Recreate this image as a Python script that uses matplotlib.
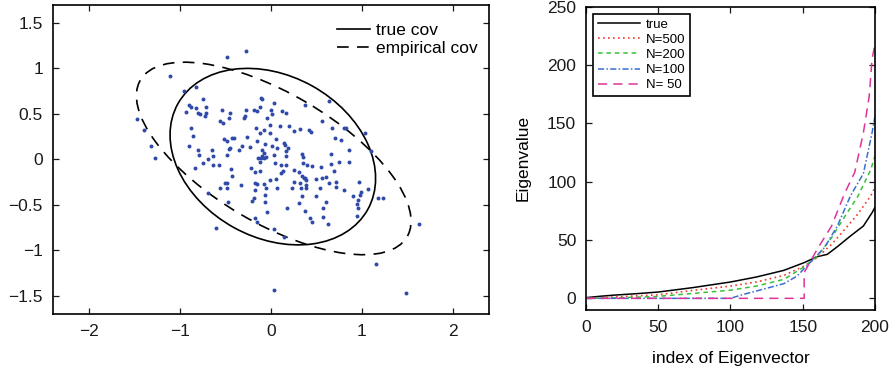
import numpy as np
import matplotlib
matplotlib.use("Agg")
import matplotlib.pyplot as plt
from matplotlib.patches import Ellipse
from matplotlib.ticker import FuncFormatter

plt.rcParams['font.family'] = ['Liberation Sans', 'DejaVu Sans']

# ---- left panel: 2-D samples and covariance ellipses ----
sample_x = [-0.27, -0.48, -1.11, -0.96, -0.83, -0.11, -0.10, 0.03, -0.75, -0.90,
            -0.88, -0.82, -0.71, -0.93, -0.80, -0.78, -0.71, -0.73, -0.54, -0.45,
            -0.46, -0.28, -0.29, -0.30, -0.19, -0.15, -0.12, 0.00, 0.01, -0.04,
            -0.56, -0.53, -1.47, -1.40, -1.32, -1.28, -0.88, -0.86, -0.90, -0.80,
            -0.79, -0.65, -0.64, -0.75, -0.69, -0.52, -0.48, -0.43, -0.41, -0.46,
            -0.45, -0.48, -0.35, -0.32, -0.26, -0.23, -0.17, -0.12, -0.08, -0.01,
            -0.01, -0.15, -0.07, 0.01, -0.10, -0.08, -0.10, -0.14, -0.11, -0.08,
            -0.05, 0.03, -0.64, -0.57,
            0.12, 0.16, 0.37, 0.64, 0.10, 0.20, 0.25, 0.32, 0.42, 0.44,
            0.56, 0.67, 0.80, 0.82, 1.03, 0.70, 0.77, 0.86, 1.10, 0.05,
            0.14, 0.15, 0.19, 0.07, 0.16, 0.16, 0.34, 0.35, 0.66, 0.75,
            0.86, 0.04, 0.11, 0.17, 0.35, 0.40, 0.45, 0.66,
            0.55, 0.13, 0.11, 0.25, 0.31, 0.34, 0.37, 0.38, 0.36, 0.50,
            0.56, 0.60, 0.69, -0.01, 0.05, 0.25, 0.32, 0.38, 0.38, 0.07,
            0.23, 0.33, 0.54, 0.64, 0.72, 0.71, 0.97, 0.80, 0.90, 0.99,
            0.98, 1.07, 1.18, 1.23, 0.34, 0.49, 0.96, 0.95, 0.96, 0.31,
            0.18, 0.61, 0.57, 0.37, 0.43, 0.45, 0.57, 0.63, 0.94, 0.03,
            0.14, 1.63, 1.15, 0.03, 1.48,
            -0.84, -0.44, -0.43, -0.22, -0.18, -0.12, -0.51, -0.48, -0.33, -0.56,
            -0.48, -0.69, -0.47, -0.18, -0.15, -0.08, -0.05, -0.18, -0.07, -0.19,
            -0.21, -0.07, -0.04, -0.18, -0.15, -0.60, -0.12]
sample_y = [1.19, 1.13, 0.92, 0.75, 0.79, 0.67, 0.66, 0.62, 0.66, 0.60,
            0.58, 0.57, 0.58, 0.52, 0.51, 0.50, 0.51, 0.48, 0.54, 0.51,
            0.46, 0.54, 0.48, 0.46, 0.54, 0.53, 0.58, 0.54, 0.50, 0.45,
            0.42, 0.40, 0.44, 0.32, 0.15, 0.02, 0.35, 0.26, 0.15, 0.10,
            0.05, 0.10, 0.04, -0.04, 0.00, 0.22, 0.20, 0.23, 0.23, 0.11,
            0.13, 0.05, 0.10, 0.15, 0.25, 0.14, 0.35, 0.29, 0.32, 0.38,
            0.29, 0.20, 0.17, 0.15, 0.10, 0.07, 0.04, 0.01, 0.01, 0.02,
            0.03, 0.05, -0.06, -0.06,
            0.53, 0.51, 0.60, 0.64, 0.37, 0.37, 0.31, 0.33, 0.32, 0.30,
            0.42, 0.35, 0.35, 0.34, 0.29, 0.24, 0.21, 0.10, 0.09, 0.22,
            0.18, 0.16, 0.13, 0.12, 0.09, 0.04, 0.06, 0.03, 0.06, -0.03,
            -0.03, -0.04, -0.06, -0.06, -0.04, -0.06, -0.07, -0.05,
            -0.08, -0.13, -0.15, -0.12, -0.14, -0.18, -0.21, -0.23, -0.20, -0.22,
            -0.20, -0.19, -0.13, -0.23, -0.22, -0.25, -0.26, -0.28, -0.31, -0.31,
            -0.32, -0.32, -0.31, -0.26, -0.25, -0.30, -0.25, -0.34, -0.40, -0.36,
            -0.39, -0.33, -0.43, -0.43, -0.40, -0.40, -0.45, -0.49, -0.53, -0.48,
            -0.53, -0.47, -0.53, -0.57, -0.64, -0.69, -0.63, -0.71, -0.62, -0.77,
            -0.85, -0.71, -1.15, -1.44, -1.47,
            -0.09, -0.11, -0.18, -0.10, -0.14, -0.13, -0.26, -0.26, -0.28, -0.32,
            -0.32, -0.37, -0.47, -0.26, -0.27, -0.27, -0.31, -0.34, -0.39, -0.42,
            -0.46, -0.47, -0.58, -0.64, -0.69, -0.75, -0.03]

# ellipse centres and (scaled) covariance matrices
true_center = [0.02, 0.03]
true_cov = [[1.277, -0.27], [-0.27, 0.941]]
emp_center = [0.03, 0.01]
emp_cov = [[2.28, -1.04], [-1.04, 1.12]]

left_xticks = [-2, -1, 0, 1, 2]
left_yticks = [-1.5, -1, -0.5, 0, 0.5, 1, 1.5]

# ---- right panel: sorted eigenvalue spectra ----
idx_true = [0, 10, 20, 35, 50, 74, 100, 118, 137, 151, 160, 167, 174, 183, 192, 198, 200]
eig_true = [0.6, 1.8, 2.8, 4.0, 5.4, 9.2, 14.0, 18.3, 24.0, 30.6, 35.7, 37.7, 44.3, 53.4, 62.0, 73.4, 78.0]

idx_500 = [0, 20, 50, 72, 100, 118, 137, 151, 160, 170, 179, 188, 197, 200]
eig_500 = [0.1, 1.2, 3.0, 6.5, 10.5, 14.0, 19.7, 27.7, 34.9, 46.3, 59.0, 72.0, 87.7, 95.0]

idx_200 = [0, 20, 48, 72, 100, 118, 137, 151, 160, 170, 179, 188, 197, 200]
eig_200 = [0.0, 0.4, 1.5, 4.0, 7.0, 10.5, 16.3, 27.0, 36.0, 52.0, 70.0, 87.0, 110.0, 122.0]

idx_100 = [0, 100, 109, 118, 137, 146, 155, 165, 174, 183, 192, 198, 200]
eig_100 = [0.0, 0.0, 3.4, 6.3, 12.6, 19.0, 30.6, 43.4, 62.0, 87.7, 107.0, 142.0, 156.0]

idx_50 = [0, 151, 151, 160, 170, 179, 186, 192, 196, 198, 200]
eig_50 = [0.0, 0.0, 22.0, 42.0, 62.0, 90.0, 108.0, 142.0, 173.0, 205.0, 218.0]

right_xticks = [0, 50, 100, 150, 200]
right_yticks = [0, 50, 100, 150, 200, 250]

FS = 12.5


def matlab_fmt(v, pos):
    s = f"{v:g}"
    return s.replace('-', '\u2212')


def style_axes(ax):
    ax.tick_params(direction='in', top=True, right=True, length=4, width=0.9,
                   labelsize=FS, pad=7, colors='#1a1a1a')
    for sp in ax.spines.values():
        sp.set_visible(True)
        sp.set_linewidth(1.2)
        sp.set_color('black')
    ax.xaxis.set_major_formatter(FuncFormatter(matlab_fmt))
    ax.yaxis.set_major_formatter(FuncFormatter(matlab_fmt))


def cov_ellipse(center, cov, **kw):
    vals, vecs = np.linalg.eigh(np.asarray(cov))
    major = vecs[:, 1]
    angle = np.degrees(np.arctan2(major[1], major[0]))
    return Ellipse(center, 2 * np.sqrt(vals[1]), 2 * np.sqrt(vals[0]), angle=angle,
                   fill=False, **kw)


fig = plt.figure(figsize=(8.95, 3.71), dpi=100)

ax1 = fig.add_axes([0.0589, 0.1536, 0.4878, 0.8337])
ax1.scatter(sample_x, sample_y, s=8, color='#2f4aa8', linewidths=0, zorder=3)
e_true = cov_ellipse(true_center, true_cov, edgecolor='black', linewidth=1.2)
e_emp = cov_ellipse(emp_center, emp_cov, edgecolor='black', linewidth=1.2,
                    linestyle=(0, (7, 5)))
ax1.add_patch(e_true)
ax1.add_patch(e_emp)
ax1.set_xlim(-2.4, 2.4)
ax1.set_ylim(-1.7, 1.7)
ax1.set_xticks(left_xticks)
ax1.set_yticks(left_yticks)
style_axes(ax1)
h1, = ax1.plot([], [], color='black', lw=1.2, label='true cov')
h2, = ax1.plot([], [], color='black', lw=1.2, ls=(0, (7, 5)), label='empirical cov')
ax1.legend(handles=[h1, h2], loc='upper right', bbox_to_anchor=(1.0, 0.977),
           frameon=False, fontsize=FS, handlelength=1.9, handletextpad=0.35,
           labelspacing=0.15, borderaxespad=0.35, borderpad=0.3)

ax2 = fig.add_axes([0.6547, 0.1644, 0.3229, 0.8176])
ax2.plot(idx_true, eig_true, color='black', lw=1.1, label='true')
ax2.plot(idx_500, eig_500, color='#f0392b', lw=1.2, ls=(0, (1, 2)), label='N=500')
ax2.plot(idx_200, eig_200, color='#38c038', lw=1.1, ls=(0, (3, 2.5)), label='N=200')
ax2.plot(idx_100, eig_100, color='#3a6fd0', lw=1.1, ls=(0, (4, 1.5, 1, 1.5)), label='N=100')
ax2.plot(idx_50, eig_50, color='#e0339a', lw=1.1, ls=(0, (6, 4)), label='N= 50')
ax2.set_xlim(0, 200)
ax2.set_ylim(-10, 250)
ax2.set_xticks(right_xticks)
ax2.set_yticks(right_yticks)
style_axes(ax2)
ax2.set_xlabel('index of Eigenvector', fontsize=FS, labelpad=12)
ax2.set_ylabel('Eigenvalue', fontsize=FS, labelpad=12)
leg = ax2.legend(loc='upper left', fontsize=9.5, handlelength=3.2, handletextpad=0.45,
                 labelspacing=0.22, borderaxespad=0.55, borderpad=0.35,
                 fancybox=False, framealpha=1, edgecolor='black')
leg.get_frame().set_linewidth(1.2)

fig.savefig('out.png', dpi=100)
